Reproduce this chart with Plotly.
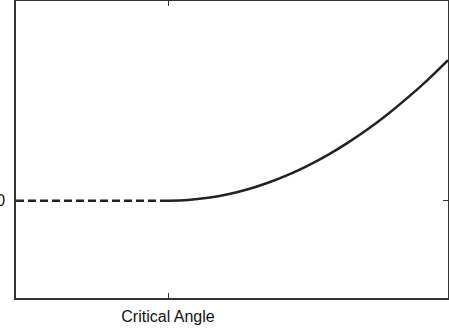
import plotly.graph_objects as go

# Data (arbitrary units)
dashed_x = [0, 152]
dashed_y = [0, 0]
curve_x = [152, 172, 192, 212, 232, 252, 272, 292, 312, 332, 352, 372, 392, 412, 432]
curve_y = [0, 0.7, 2.9, 6.4, 11.4, 17.9, 25.7, 35, 45.7, 57.9, 71.4, 86.4, 102.9, 120.7, 140]
x_tick_vals = [152]
x_tick_text = ["Critical Angle"]
y_tick_vals = [0]
y_tick_text = ["0"]

fig = go.Figure()
fig.add_trace(go.Scatter(x=dashed_x, y=dashed_y, mode="lines",
                         line=dict(color="#222222", width=2.5, dash="8px,4px"),
                         showlegend=False, hoverinfo="skip"))
fig.add_trace(go.Scatter(x=curve_x, y=curve_y, mode="lines",
                         line=dict(color="#222222", width=2.5, shape="spline"),
                         showlegend=False, hoverinfo="skip"))

axis_common = dict(showgrid=False, zeroline=False, showline=True,
                   linecolor="#333333", linewidth=1.5, mirror="ticks",
                   ticks="inside", ticklen=5, tickcolor="#333333",
                   automargin=False,
                   tickfont=dict(family="Liberation Sans, Arial, sans-serif",
                                 size=16, color="#111111"))
fig.update_xaxes(range=[0, 432], tickvals=x_tick_vals, ticktext=x_tick_text,
                 ticklabelstandoff=3, **axis_common)
fig.update_yaxes(range=[-97, 199], tickvals=y_tick_vals, ticktext=y_tick_text,
                 ticklabelstandoff=6, **axis_common)
fig.update_layout(width=449, height=331,
                  margin=dict(l=16, r=1, t=1, b=33),
                  paper_bgcolor="white", plot_bgcolor="white")
fig.write_html("out.html", config={"displayModeBar": False},
               post_script="document.body.style.margin='0';document.body.style.overflow='hidden';")
